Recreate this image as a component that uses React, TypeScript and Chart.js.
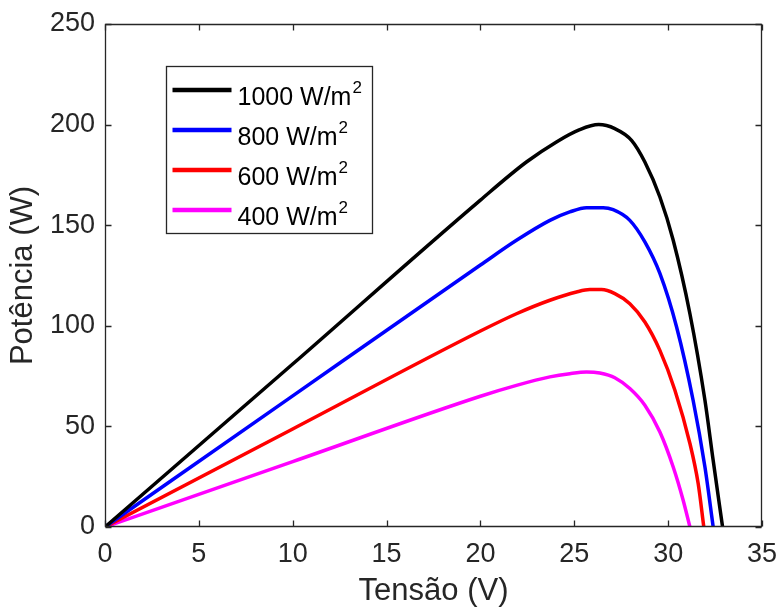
import React, { useEffect, useRef } from "react";
import { Chart, registerables } from "chart.js";

Chart.register(...registerables);

// ---- Data ----
const voltage1000 = [0, 10, 20, 22.45, 24.05, 25.29, 26.3, 27.16, 28.05, 28.76, 29.56, 30.27, 31.16, 31.96, 32.4, 32.9];
const power1000 = [0, 81, 162.5, 181.4, 191.4, 197.5, 200, 198, 192.2, 181.4, 164, 142.5, 106, 63, 33, 0];

const voltage800 = [0, 10, 20, 21.92, 23.7, 24.76, 25.65, 26.54, 27.07, 27.96, 28.76, 29.56, 30.45, 31.33, 31.96, 32.4];
const power800 = [0, 65.2, 130.2, 142.5, 152.4, 156.6, 158.7, 158.7, 157.7, 152.4, 141.7, 126, 99.4, 63, 29.8, 0];

const voltage600 = [0, 10, 20, 21.92, 23.7, 25.12, 25.83, 26.45, 27.16, 27.96, 28.76, 29.56, 30.36, 31.16, 31.6, 31.9];
const power600 = [0, 48.7, 97.4, 106, 112.7, 116.8, 118, 118, 116, 111, 101.9, 87.8, 68, 41.5, 21.6, 0];

const voltage400 = [0, 10, 20, 21.92, 23.7, 24.76, 25.65, 26.36, 27.16, 27.96, 28.76, 29.56, 30.27, 30.8, 31.16];
const power400 = [0, 32.5, 65, 70.4, 74.6, 76.2, 77, 76.5, 74.2, 68.8, 60.5, 47.2, 29.8, 13.3, 0];

const seriesLabels = ["1000 W/m²", "800 W/m²", "600 W/m²", "400 W/m²"];
const seriesColors = ["#000000", "#0000ff", "#ff0000", "#ff00ff"];

const xTickValues = [0, 5, 10, 15, 20, 25, 30, 35];
const yTickValues = [0, 50, 100, 150, 200, 250];

const xTitle = "Tensão (V)";
const yTitle = "Potência (W)";

const FONT = "'Liberation Sans', Arial, Helvetica, sans-serif";
const AXIS_COLOR = "#262626";

function toPoints(xs: number[], ys: number[]) {
  return xs.map((x, i) => ({ x, y: ys[i] }));
}

const framePlugin = {
  id: "matlabFrame",
  afterDatasetsDraw(chart: any) {
    const { ctx, chartArea, scales } = chart;
    const { left, right, top, bottom } = chartArea;
    const L = Math.round(left) + 0.5, R = Math.round(right) - 0.5, T = Math.round(top) + 0.5, B = Math.round(bottom) - 0.5;
    const tick = 6;
    ctx.save();
    ctx.strokeStyle = AXIS_COLOR;
    ctx.lineWidth = 1.3;
    ctx.beginPath();
    ctx.rect(L, T, R - L, B - T);
    ctx.stroke();
    ctx.beginPath();
    xTickValues.forEach((v) => {
      const px = Math.round(scales.x.getPixelForValue(v)) + 0.5;
      ctx.moveTo(px, B);
      ctx.lineTo(px, B - tick);
      ctx.moveTo(px, T);
      ctx.lineTo(px, T + tick);
    });
    yTickValues.forEach((v) => {
      const py = Math.round(scales.y.getPixelForValue(v)) + 0.5;
      ctx.moveTo(L, py);
      ctx.lineTo(L + tick, py);
      ctx.moveTo(R, py);
      ctx.lineTo(R - tick, py);
    });
    ctx.stroke();
    ctx.restore();
  },
};

const legendPlugin = {
  id: "matlabLegend",
  afterDraw(chart: any) {
    const { ctx, chartArea } = chart;
    const boxL = Math.round(chartArea.left + 61) + 0.5;
    const boxT = Math.round(chartArea.top + 42) + 0.5;
    const boxW = 206;
    const boxH = 167;
    ctx.save();
    ctx.fillStyle = "#ffffff";
    ctx.fillRect(boxL, boxT, boxW, boxH);
    ctx.strokeStyle = AXIS_COLOR;
    ctx.lineWidth = 1.3;
    ctx.strokeRect(boxL, boxT, boxW, boxH);
    chart.data.datasets.forEach((ds: any, i: number) => {
      const rowY = boxT + 23.5 + i * 40;
      ctx.strokeStyle = ds.borderColor;
      ctx.lineWidth = 4.5;
      ctx.lineCap = "butt";
      ctx.beginPath();
      ctx.moveTo(boxL + 6, rowY);
      ctx.lineTo(boxL + 65, rowY);
      ctx.stroke();
      const label: string = ds.label;
      const parts = label.split("²");
      const main = parts[0];
      ctx.fillStyle = "#000000";
      ctx.textBaseline = "alphabetic";
      ctx.textAlign = "left";
      ctx.font = `25px ${FONT}`;
      const tx = boxL + 71;
      const baseY = rowY + 15;
      ctx.fillText(main, tx, baseY);
      if (parts.length > 1) {
        const w = ctx.measureText(main).width;
        ctx.font = `17px ${FONT}`;
        ctx.fillText("2", tx + w + 1, baseY - 12);
      }
    });
    ctx.restore();
  },
};

export default function App() {
  const canvasRef = useRef<HTMLCanvasElement | null>(null);

  useEffect(() => {
    document.body.style.margin = "0";
    const canvas = canvasRef.current;
    if (!canvas) return;
    const datasets = [
      toPoints(voltage1000, power1000),
      toPoints(voltage800, power800),
      toPoints(voltage600, power600),
      toPoints(voltage400, power400),
    ].map((data, i) => ({
      label: seriesLabels[i],
      data,
      borderColor: seriesColors[i],
      backgroundColor: seriesColors[i],
      borderWidth: 3.5,
      pointRadius: 0,
      cubicInterpolationMode: "monotone" as const,
      fill: false,
    }));

    const chart = new Chart(canvas, {
      type: "line",
      data: { datasets },
      options: {
        responsive: false,
        animation: false,
        layout: { padding: { top: 24, right: 17, left: 0, bottom: 0 } },
        plugins: {
          legend: { display: false },
          tooltip: { enabled: false },
        },
        scales: {
          x: {
            type: "linear",
            min: 0,
            max: 35,
            afterFit(scale: any) {
              scale.height = 83;
              scale.paddingLeft = 0;
              scale.paddingRight = 0;
            },
            afterBuildTicks(scale: any) {
              scale.ticks = xTickValues.map((v) => ({ value: v }));
            },
            grid: { display: false, drawTicks: false },
            border: { display: false },
            ticks: {
              color: AXIS_COLOR,
              font: { family: FONT, size: 27 },
              padding: 11,
              maxRotation: 0,
              autoSkip: false,
            },
            title: {
              display: true,
              text: xTitle,
              color: AXIS_COLOR,
              font: { family: FONT, size: 31 },
              padding: { top: 0, bottom: 0 },
            },
          },
          y: {
            type: "linear",
            min: 0,
            max: 250,
            afterFit(scale: any) {
              scale.width = 105;
              scale.paddingTop = 0;
              scale.paddingBottom = 0;
            },
            afterBuildTicks(scale: any) {
              scale.ticks = yTickValues.map((v) => ({ value: v }));
            },
            grid: { display: false, drawTicks: false },
            border: { display: false },
            ticks: {
              color: AXIS_COLOR,
              font: { family: FONT, size: 27 },
              padding: 10,
              autoSkip: false,
            },
            title: {
              display: true,
              text: yTitle,
              color: AXIS_COLOR,
              font: { family: FONT, size: 31 },
              padding: { top: 5, bottom: 0 },
            },
          },
        },
      },
      plugins: [framePlugin, legendPlugin],
    });
    return () => chart.destroy();
  }, []);

  return (
    <div style={{ position: "absolute", left: 0, top: 0, width: 779, height: 610, background: "#ffffff" }}>
      <canvas ref={canvasRef} width={779} height={610} style={{ display: "block" }} />
    </div>
  );
}
